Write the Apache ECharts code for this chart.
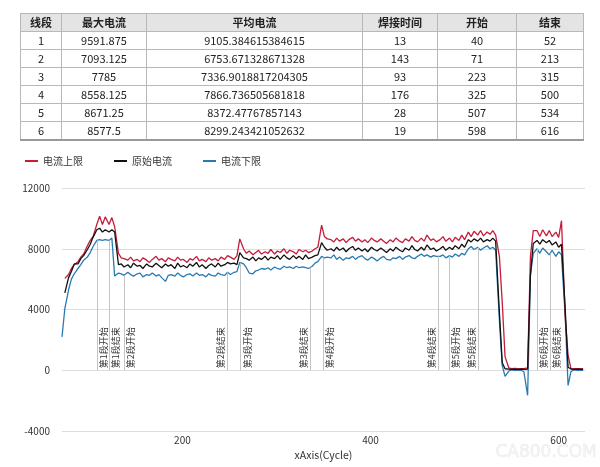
<!DOCTYPE html>
<html><head><meta charset="utf-8">
<script src="https://cdn.jsdelivr.net/npm/echarts@6/dist/echarts.min.js"></script>
<style>
html,body{margin:0;padding:0;background:#fff;width:600px;height:467px;overflow:hidden;font-family:"Noto Sans CJK SC","Noto Sans",sans-serif;}
#chart{position:absolute;left:0;top:0;width:600px;height:467px;}
#tbl{position:absolute;left:20px;top:13px;width:563px;border-collapse:collapse;font-size:11px;color:#222;z-index:2;table-layout:fixed;border:1px solid #8a8a8a;border-bottom:2px solid #999;}
#tbl th,#tbl td{border:1px solid #b8b8b8;height:17px;padding:0;text-align:center;line-height:17px;white-space:nowrap;}
#tbl th{background:#e4e4e4;font-weight:bold;}
</style></head>
<body>
<div id="chart"></div>
<table id="tbl"></table>
<script>
// ---------- table data ----------
const tableHeaders = ['线段','最大电流','平均电流','焊接时间','开始','结束'];
const segIds = [1,2,3,4,5,6];
const maxCurrent = ['9591.875','7093.125','7785','8558.125','8671.25','8577.5'];
const avgCurrent = ['9105.384615384615','6753.671328671328','7336.9018817204305','7866.736505681818','8372.47767857143','8299.243421052632'];
const weldTime = [13,143,93,176,28,19];
const startCycle = [40,71,223,325,507,598];
const endCycle = [52,213,315,500,534,616];

// ---------- chart data ----------
const seriesNames = ['电流上限','原始电流','电流下限'];
const cycles = [72,74,75,79,82,85,89,92,95,99,102,105,109,112,115,118,122,125,128,132,135,138,142,145,148,152,155,158,162,165,168,172,175,178,182,185,188,192,195,198,201,205,208,211,215,218,221,225,228,231,235,238,241,245,248,251,255,258,261,265,268,271,275,278,281,284,288,291,294,298,301,304,308,311,314,318,321,324,328,331,334,338,341,344,348,351,354,358,361,364,367,371,374,377,381,384,387,391,394,397,401,404,407,411,414,417,421,424,427,431,434,437,441,444,447,450,454,457,460,464,467,470,474,477,480,484,487,490,494,497,500,504,507,510,514,517,520,524,527,530,533,537,540,543,547,550,553,557,560,563,567,570,573,577,580,583,587,590,593,597,600,603,607,610,613,616,620,623,626];
const upperLimit = [null,null,6050,6300,6700,6950,7150,7450,7650,8200,8550,8800,9600,10150,9600,10100,9600,10050,9450,7700,
7400,7350,7250,7450,7200,7300,7150,7400,7250,7100,7300,7500,7250,7350,7150,7400,7300,7200,7450,7250,7300,7100,7350,7250,7500,7200,7300,7150,7400,7250,7350,7200,7450,7300,7550,
7450,7300,7550,8650,8000,7700,7850,7600,7750,7900,7650,7800,7700,7950,7650,7850,7750,8000,7700,7900,7800,7650,7950,7800,7900,7750,7850,8000,8100,9550,8800,8650,
8600,8450,8700,8500,8650,8400,8600,8750,8500,8650,8450,8600,8400,8700,8550,8450,8650,8500,8350,8600,8450,8700,8500,8400,8650,8500,8800,8550,8450,8700,8500,8900,8550,8650,8450,
8600,8800,8500,8700,8450,8750,8550,8900,8600,
9100,8800,9150,8900,9200,8850,9100,8950,9200,8900,
7500,4500,900,150,100,120,100,110,100,150,7500,9200,
9200,8800,9250,8850,9200,8800,9100,8750,9850,3500,1000,120,100,100,110,100];
const rawCurrent = [null,null,5100,6100,6500,7000,7000,7350,7550,7950,8300,8750,9250,9350,9100,9250,9100,9250,9100,6950,
7000,6800,6950,6750,7050,6850,6900,6700,7000,6850,6800,7050,6900,6750,7000,6850,6950,6700,7050,6800,6900,6750,7000,6850,7100,6800,6950,6700,6900,7000,6800,7050,6850,6950,7100,
7000,7050,6950,7750,7400,7350,7250,7450,7200,7400,7300,7500,7250,7450,7350,7550,7300,7600,7400,7300,7550,7350,7500,7300,7600,7350,7450,7550,7600,8400,8100,7900,
8000,7850,8100,7900,8050,7800,8000,8150,7900,8050,7850,8000,7800,8100,7950,7850,8050,7900,7750,8000,7850,8100,7900,7800,8050,7900,8200,7950,7850,8100,7900,8250,7950,8050,7850,
8000,8150,7900,8100,7950,8200,8000,8300,8100,
8600,8450,8650,8500,8700,8450,8600,8500,8700,8500,
3800,500,100,80,60,70,60,70,60,80,6300,8350,
8550,8300,8600,8400,8550,8250,8450,8100,8300,4000,200,80,60,70,60,60];
const lowerLimit = [2200,2250,4050,5300,6000,6350,6700,6950,7250,7450,7750,8150,8550,8600,8550,8600,8550,8700,6200,
6400,6350,6250,6450,6300,6200,6350,6400,6150,6300,6250,6400,6200,6300,6100,5850,6250,6300,6200,6400,6250,6150,6300,6350,6200,6400,6250,6300,6150,6350,6250,6200,6400,6300,6250,6450,
6300,6450,6500,7100,7000,6750,6400,6350,6550,6600,6700,6650,6750,6600,6800,6700,6650,6850,6750,6800,6700,6850,6750,6800,6750,6700,6850,7050,7150,7500,7400,7450,
7400,7600,7300,7450,7250,7400,7350,7500,7300,7450,7550,7350,7250,7450,7350,7200,7400,7500,7300,7250,7400,7350,7500,7300,7450,7550,7400,7350,7500,7650,7500,7600,7450,7550,7500,
7500,7600,7400,7550,7450,7650,7500,7700,7600,
8000,8150,7950,8100,7900,8050,8200,8000,8100,7900,
3300,300,-400,-50,20,0,10,0,-100,-1650,6250,7700,
8000,7700,8050,7800,7600,7900,7500,7800,7600,3500,-1000,-100,20,0,10,0];
// marker positions (x axis units)
const markerCycles = [109,122,138,248,262,336,350,472,484,514,577,591];
const yTicks = {min:-4000, max:12000, step:4000};
const xLabelsShown = [200,400,600];

// ---------- build table ----------
(function(){
  const t = document.getElementById('tbl');
  const widths = [41,85,216,75,79,67];
  let h = '<colgroup>' + widths.map(w=>'<col style="width:'+w+'px">').join('') + '</colgroup>';
  h += '<tr>' + tableHeaders.map(s=>'<th>'+s+'</th>').join('') + '</tr>';
  segIds.forEach((id,i)=>{
    h += '<tr><td>'+id+'</td><td>'+maxCurrent[i]+'</td><td>'+avgCurrent[i]+'</td><td>'+weldTime[i]+'</td><td>'+startCycle[i]+'</td><td>'+endCycle[i]+'</td></tr>';
  });
  t.innerHTML = h;
})();

// ---------- chart ----------
const FONT = '"Noto Sans CJK SC","Noto Sans",sans-serif';
const RED = '#c41d3a', BLACK = '#111111', BLUE = '#2a7ab2';
const pairs = arr => cycles.map((c,i)=>[c, arr[i]]);

function lowerAt(x){
  for (let i=0;i<cycles.length-1;i++){
    if (x>=cycles[i] && x<=cycles[i+1]){
      const a=lowerLimit[i], b=lowerLimit[i+1];
      return a + (b-a)*(x-cycles[i])/(cycles[i+1]-cycles[i]);
    }
  }
  return 0;
}
const markerNames = [];
segIds.forEach(id=>{ markerNames.push('第'+id+'段开始'); markerNames.push('第'+id+'段结束'); });
const labelSides = ['R','R','R','L','R','L','R','L','R','L','R','R'];
const markData = markerCycles.map((x,k)=>[
  {coord:[x,0], name:markerNames[k],
   label:{show:true, position: labelSides[k]==='R' ? 'insideStartBottom' : 'insideStartTop', formatter: markerNames[k]}},
  {coord:[x, lowerAt(x)]}
]);

const chart = echarts.init(document.getElementById('chart'), null, {renderer:'canvas'});
chart.setOption({
  animation:false,
  textStyle:{fontFamily:FONT},
  color:[RED,BLACK,BLUE],
  legend:{left:20, top:151, icon:'rect', itemWidth:13, itemHeight:2, itemGap:31,
    textStyle:{fontSize:10, color:'#333', fontFamily:FONT}, data:seriesNames},
  grid:{left:62, right:15, top:188, bottom:36},
  xAxis:{type:'value', min:72, max:628,
    name:'xAxis(Cycle)', nameLocation:'middle', nameGap:17,
    nameTextStyle:{fontSize:10.5, color:'#333', fontFamily:FONT},
    axisLine:{show:false}, axisTick:{show:false}, splitLine:{show:false},
    axisLabel:{fontSize:10, color:'#333', margin:4,
      formatter: v => xLabelsShown.indexOf(Math.round(v))>=0 ? String(Math.round(v)) : ''}},
  yAxis:{type:'value', min:yTicks.min, max:yTicks.max, interval:yTicks.step,
    axisLine:{show:false}, axisTick:{show:false},
    splitLine:{lineStyle:{color:'#dddddd', width:1}},
    axisLabel:{fontSize:10, color:'#333', margin:12, formatter: v => String(v)}},
  series:[
    {name:seriesNames[0], type:'line', data:pairs(upperLimit), showSymbol:false, connectNulls:false,
     lineStyle:{width:1.3, color:RED}, itemStyle:{color:RED}, z:3},
    {name:seriesNames[1], type:'line', data:pairs(rawCurrent), showSymbol:false, connectNulls:false,
     lineStyle:{width:1.3, color:BLACK}, itemStyle:{color:BLACK}, z:4},
    {name:seriesNames[2], type:'line', data:pairs(lowerLimit), showSymbol:false, connectNulls:false,
     lineStyle:{width:1.3, color:BLUE}, itemStyle:{color:BLUE}, z:2,
     markLine:{silent:true, symbol:['none','none'], animation:false,
       lineStyle:{color:'#c4c4c4', width:1, type:'solid'},
       label:{fontSize:9, color:'#333', distance:2, fontFamily:FONT},
       data:markData}}
  ],
  graphic:[{type:'text', right:3, bottom:6, silent:true,
    style:{text:'CA800.COM', fontSize:17, fontFamily:'DejaVu Sans', fill:'rgba(236,236,236,0.5)', stroke:'rgba(210,210,210,0.45)', lineWidth:0.5}}]
});
</script>
</body></html>
